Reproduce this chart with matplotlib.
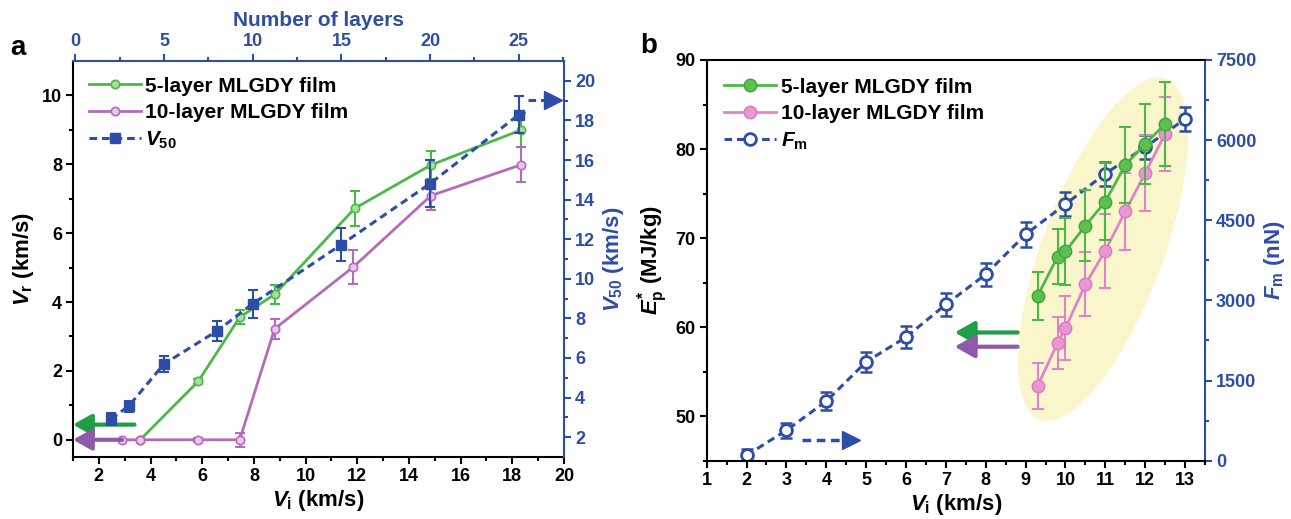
import numpy as np
import matplotlib.pyplot as plt
from matplotlib.patches import Polygon

plt.rcParams['font.family'] = ['Liberation Sans', 'DejaVu Sans']
plt.rcParams['font.weight'] = 'bold'
plt.rcParams['axes.labelweight'] = 'bold'
plt.rcParams['mathtext.fontset'] = 'custom'
plt.rcParams['mathtext.rm'] = 'Liberation Sans:bold'
plt.rcParams['mathtext.it'] = 'Liberation Sans:italic:bold'
plt.rcParams['mathtext.bf'] = 'Liberation Sans:bold'

GREEN = '#4cb848'
PURPLE = '#b46bbb'
PINK = '#e083c9'
BLUE = '#2e4da6'
ARROW_GREEN = '#1f9e45'
ARROW_PURPLE = '#8f5aa8'
ELLIPSE = '#faf6cc'

# panel a: rebound velocity vs impact velocity
vi_5 = [3.6, 5.85, 7.45, 8.8, 11.9, 14.85, 18.35]
vr_5 = [0.0, 1.7, 3.56, 4.22, 6.72, 7.98, 9.0]
vr_5_err = [0.0, 0.07, 0.21, 0.28, 0.5, 0.4, 0.5]

vi_10 = [2.9, 3.6, 5.85, 7.45, 8.8, 11.85, 14.85, 18.35]
vr_10 = [0.0, 0.0, 0.0, 0.0, 3.22, 5.02, 7.09, 7.99]
vr_10_err = [0.0, 0.0, 0.05, 0.2, 0.3, 0.5, 0.43, 0.5]

layers = [2, 3, 5, 8, 10, 15, 20, 25]
v50 = [2.92, 3.56, 5.7, 7.37, 8.74, 11.73, 14.81, 18.29]
v50_err = [0.28, 0.28, 0.4, 0.5, 0.7, 0.85, 1.2, 0.95]

# panel b: penetration energy and max force
vi_b = [9.3, 9.8, 10.0, 10.5, 11.0, 11.5, 12.0, 12.5]
ep_5 = [63.5, 67.9, 68.5, 71.4, 74.1, 78.2, 80.6, 82.8]
ep_5_err = [2.7, 3.1, 3.8, 4.0, 4.3, 4.3, 4.5, 4.7]
ep_10 = [53.4, 58.2, 59.9, 64.8, 68.6, 73.0, 77.3, 81.7]
ep_10_err = [2.6, 2.9, 3.6, 3.6, 4.15, 4.3, 4.3, 4.2]

vi_f = [2, 3, 4, 5, 6, 7, 8, 9, 10, 11, 12, 13]
fm = [100, 569, 1113, 1850, 2313, 2925, 3488, 4236, 4802, 5372, 5870, 6394]
fm_err = [120, 140, 170, 190, 205, 210, 220, 235, 220, 222, 225, 225]

W, H = 1291, 519
fig = plt.figure(figsize=(W / 100, H / 100), dpi=100)


def px_axes(left, right, top, bottom):
    return [left / W, (H - bottom) / H, (right - left) / W, (bottom - top) / H]


def style_axis(ax, which, color, major, minor):
    ax.tick_params(axis=which, which='major', direction='out', length=5, width=1.5,
                   colors=color, labelsize=13, pad=3)
    ax.tick_params(axis=which, which='minor', direction='out', length=3, width=1.5,
                   colors=color)


# ---------------- panel a ----------------
pos_a = px_axes(73, 564, 61, 457)
ax = fig.add_axes(pos_a)
axv = fig.add_axes(pos_a, facecolor='none')

ax.errorbar(vi_5, vr_5, yerr=vr_5_err, fmt='none', ecolor=GREEN, elinewidth=1.5,
            capsize=3.5, capthick=1.5, zorder=2)
h5, = ax.plot(vi_5, vr_5, '-o', color=GREEN, lw=2, ms=6, mfc='#a8e0a0', mec=GREEN,
              mew=1.2, zorder=3, label='5-layer MLGDY film')
ax.errorbar(vi_10, vr_10, yerr=vr_10_err, fmt='none', ecolor=PURPLE, elinewidth=1.5,
            capsize=3.5, capthick=1.5, zorder=2)
h10, = ax.plot(vi_10, vr_10, '-o', color=PURPLE, lw=2, ms=6, mfc='#ecc6ee', mec=PURPLE,
               mew=1.2, zorder=3, label='10-layer MLGDY film')

ax.annotate('', xy=(1.0, 0.44), xytext=(3.38, 0.44),
            arrowprops=dict(arrowstyle='-|>,head_length=0.8,head_width=0.45',
                            color=ARROW_GREEN, lw=3, mutation_scale=14, shrinkA=0, shrinkB=0),
            zorder=4)
ax.annotate('', xy=(1.0, 0.0), xytext=(2.9, 0.0),
            arrowprops=dict(arrowstyle='-|>,head_length=0.8,head_width=0.45',
                            color=ARROW_PURPLE, lw=3, mutation_scale=14, shrinkA=0, shrinkB=0),
            zorder=4)

ax.set_xlim(1, 20)
ax.set_ylim(-0.5, 11)
ax.set_xticks(np.arange(2, 21, 2))
ax.set_xticks(np.arange(1, 20, 2), minor=True)
ax.set_yticks(np.arange(0, 11, 2))
ax.set_yticks(np.arange(1, 11, 2), minor=True)
style_axis(ax, 'x', 'black', None, None)
style_axis(ax, 'y', 'black', None, None)
ax.set_xlabel(r'$V_{\rm i}$ (km/s)', fontsize=16, labelpad=2)
ax.set_ylabel(r'$V_{\rm r}$ (km/s)', fontsize=16, labelpad=4)
for s in ['top', 'right']:
    ax.spines[s].set_visible(False)
for s in ['left', 'bottom']:
    ax.spines[s].set_linewidth(1.5)

axv.errorbar(layers, v50, yerr=v50_err, fmt='none', ecolor=BLUE, elinewidth=1.5,
             capsize=3.5, capthick=1.5, zorder=2)
hv, = axv.plot(layers, v50, ls=(0, (2.5, 1.6)), marker='s', color=BLUE, lw=2.2, ms=6.5,
               zorder=3, label=r'$V_{50}$')
axv.plot([25.5, 26.5], [19.05, 19.05], ls=(0, (2.5, 1.6)), color=BLUE, lw=2.2,
         clip_on=False)
axv.plot([26.95], [19.05], marker='>', ms=13, color=BLUE, clip_on=False)

axv.set_xlim(-0.13, 27.55)
axv.set_ylim(1, 21)
axv.xaxis.set_ticks_position('top')
axv.xaxis.set_label_position('top')
axv.yaxis.set_ticks_position('right')
axv.yaxis.set_label_position('right')
axv.set_xticks(np.arange(0, 26, 5))
axv.set_xticks(np.arange(2.5, 27.6, 5), minor=True)
axv.set_yticks(np.arange(2, 21, 2))
axv.set_yticks(np.arange(3, 21, 2), minor=True)
style_axis(axv, 'x', BLUE, None, None)
style_axis(axv, 'y', BLUE, None, None)
axv.set_xlabel('Number of layers', fontsize=15, color=BLUE, labelpad=5)
axv.set_ylabel(r'$V_{50}$ (km/s)', fontsize=16, color=BLUE, labelpad=4)
for s in ['left', 'bottom']:
    axv.spines[s].set_visible(False)
for s in ['top', 'right']:
    axv.spines[s].set_color(BLUE)
    axv.spines[s].set_linewidth(1.5)

axv.legend(handles=[h5, h10, hv], loc='upper left', bbox_to_anchor=(0.0, 1.0),
           frameon=False, fontsize=15, handlelength=2.5, handletextpad=0.2,
           labelspacing=0.35, borderaxespad=0.35)

fig.text(10 / W, 1 - 48 / H, 'a', fontsize=20, fontweight='bold', va='center')

# ---------------- panel b ----------------
pos_b = px_axes(706.7, 1205, 60, 460.7)
bx = fig.add_axes(pos_b)
bf = bx.twinx()
bx.set_zorder(bf.get_zorder() + 1)
bx.patch.set_visible(False)

bx.set_xlim(1, 13.5)
bx.set_ylim(45, 90)
bf.set_ylim(0, 7500)

# highlight ellipse, built in screen space so it stays a true ellipse
e_bottom = (9.35, 49.6)
e_top = (12.53, 87.9)
e_ratio = 0.333
p1 = bx.transData.transform(e_bottom)
p2 = bx.transData.transform(e_top)
c = (p1 + p2) / 2
a = np.hypot(*(p2 - p1)) / 2
u = (p2 - p1) / (2 * a)
v = np.array([-u[1], u[0]])
t = np.linspace(0, 2 * np.pi, 200)
pts = c + np.outer(a * np.cos(t), u) + np.outer(a * e_ratio * np.sin(t), v)
pts = bf.transData.inverted().transform(pts)
bf.add_patch(Polygon(pts, closed=True, facecolor=ELLIPSE, edgecolor='none', zorder=0))

bf.errorbar(vi_f, fm, yerr=fm_err, fmt='none', ecolor=BLUE, elinewidth=1.8,
            capsize=4, capthick=1.8, zorder=2)
hf, = bf.plot(vi_f, fm, ls=(0, (2.5, 1.6)), marker='o', color=BLUE, lw=2.2, ms=8.5,
              mfc='white', mec=BLUE, mew=2, zorder=3, label=r'$F_{\rm m}$')
bf.plot([3.38, 4.45], [380, 380], ls=(0, (2.5, 1.6)), color=BLUE, lw=2.5)
bf.plot([4.62], [380], marker='>', ms=13, color=BLUE)

bx.errorbar(vi_b, ep_10, yerr=ep_10_err, fmt='none', ecolor=PINK, elinewidth=1.5,
            capsize=4, capthick=1.5, zorder=2)
hp, = bx.plot(vi_b, ep_10, '-o', color=PINK, lw=2, ms=9, mfc='#e996d3', mec='#d77bbf',
              mew=1, zorder=3, label='10-layer MLGDY film')
bx.errorbar(vi_b, ep_5, yerr=ep_5_err, fmt='none', ecolor=GREEN, elinewidth=1.5,
            capsize=4, capthick=1.5, zorder=4)
hg, = bx.plot(vi_b, ep_5, '-o', color=GREEN, lw=2, ms=9, mfc='#5cbf4f', mec='#3fa53a',
              mew=1, zorder=5, label='5-layer MLGDY film')

bx.annotate('', xy=(7.22, 59.4), xytext=(8.8, 59.4),
            arrowprops=dict(arrowstyle='-|>,head_length=0.8,head_width=0.45',
                            color=ARROW_GREEN, lw=3, mutation_scale=15, shrinkA=0, shrinkB=0))
bx.annotate('', xy=(7.22, 57.8), xytext=(8.8, 57.8),
            arrowprops=dict(arrowstyle='-|>,head_length=0.8,head_width=0.45',
                            color=ARROW_PURPLE, lw=3, mutation_scale=15, shrinkA=0, shrinkB=0))

bx.set_xticks(np.arange(1, 14, 1))
bx.set_xticks(np.arange(1.5, 13.6, 1), minor=True)
bx.set_yticks(np.arange(50, 91, 10))
bx.set_yticks(np.arange(45, 91, 5), minor=True)
style_axis(bx, 'x', 'black', None, None)
style_axis(bx, 'y', 'black', None, None)
bx.set_xlabel(r'$V_{\rm i}$ (km/s)', fontsize=16, labelpad=2)
bx.set_ylabel(r'$E^{*}_{\rm p}$ (MJ/kg)', fontsize=16, labelpad=4)
for s in ['left', 'bottom', 'top']:
    bx.spines[s].set_linewidth(1.5)
bx.spines['right'].set_visible(False)

bf.set_yticks(np.arange(0, 7501, 1500))
bf.set_yticks(np.arange(750, 7500, 1500), minor=True)
style_axis(bf, 'y', BLUE, None, None)
bf.set_ylabel(r'$F_{\rm m}$ (nN)', fontsize=16, color=BLUE, labelpad=4)
bf.spines['right'].set_color(BLUE)
bf.spines['right'].set_linewidth(1.5)
for s in ['left', 'bottom', 'top']:
    bf.spines[s].set_visible(False)

bx.legend(handles=[hg, hp, hf], loc='upper left', bbox_to_anchor=(0.0, 1.0),
          frameon=False, fontsize=15, handlelength=2.5, handletextpad=0.2,
          labelspacing=0.35, borderaxespad=0.45)

fig.text(640 / W, 1 - 46 / H, 'b', fontsize=20, fontweight='bold', va='center')

fig.savefig('out.png', dpi=100)
